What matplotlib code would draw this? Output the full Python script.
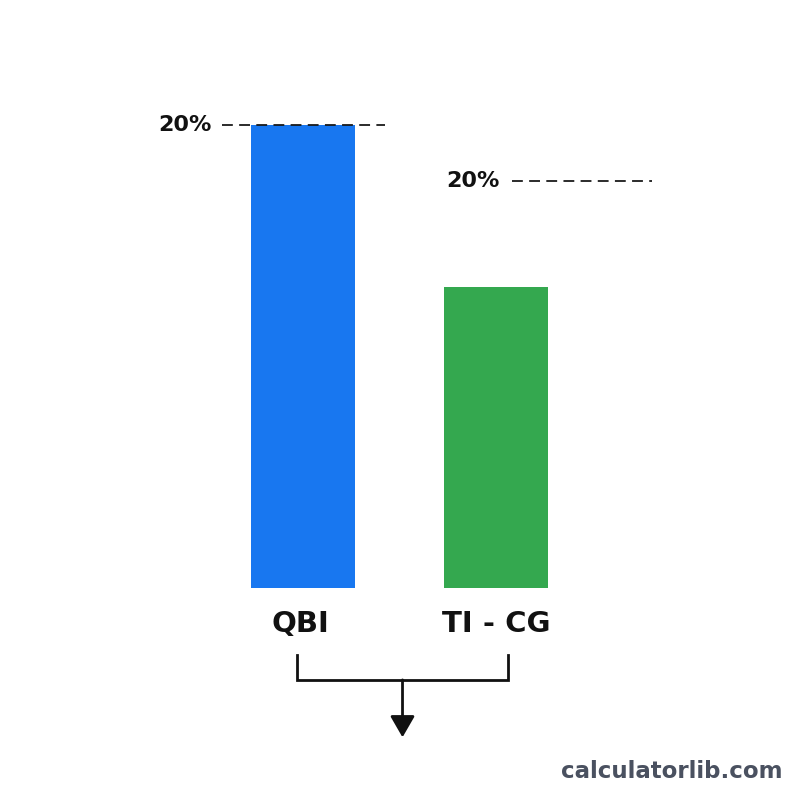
import matplotlib.pyplot as plt

# Data
categories = ['QBI', 'TI - CG']
values = [20.0, 13.0]
bar_colors = ['#1877F0', '#34A84F']
marker_labels = ['20%', '20%']
marker_levels = [20.0, 17.6]

fig = plt.figure(figsize=(8, 8), dpi=100)
fig.patch.set_facecolor('white')

# axes: bottom of bars at 588px, value 20 at 125px
ax = fig.add_axes([0, 1 - 588 / 800, 1, (588 - 125) / 800])
x = list(range(len(categories)))
ax.bar(x, values, width=0.539, color=bar_colors)
ax.set_xlim(-1.570, 2.575)
ax.set_ylim(0, 20)
ax.axis('off')

# dashed reference lines with labels
dash_spans = [(-0.420, 0.425), (1.083, 1.808)]
text_x = [-0.471, 1.021]
for lvl, lab, (x0, x1), tx in zip(marker_levels, marker_labels, dash_spans, text_x):
    ax.plot([x0, x1], [lvl, lvl], color='#1a1a1a', lw=1.3,
            linestyle=(0, (6, 3.5)), clip_on=False, zorder=3)
    ax.text(tx, lvl, lab, ha='right', va='center', fontsize=16,
            fontweight='bold', color='#111111', clip_on=False)

# category labels under bars
label_shift = [-0.015, 0.0]
for xi, cat, dx in zip(x, categories, label_shift):
    ax.text(xi + dx, -1.55, cat, ha='center', va='center', fontsize=21,
            fontweight='bold', color='#111111', clip_on=False)

# bracket joining both categories, with arrow down
bl, br = -0.031, 1.062
y_top, y_mid = -2.89, -3.97
ax.plot([bl, bl, br, br], [y_top, y_mid, y_mid, y_top], color='#111111',
        lw=2.0, clip_on=False, solid_joinstyle='miter')
xm = (bl + br) / 2
ax.annotate('', xy=(xm, -6.45), xytext=(xm, y_mid), annotation_clip=False,
            arrowprops=dict(arrowstyle='-|>,head_length=1.3,head_width=0.75',
                            color='#111111', lw=2.0, shrinkA=0, shrinkB=0))

fig.text(0.978, 0.035, 'calculatorlib.com', ha='right', va='center',
         fontsize=16.5, fontweight='bold', color='#4a5160')

fig.savefig('out.png', dpi=100)
